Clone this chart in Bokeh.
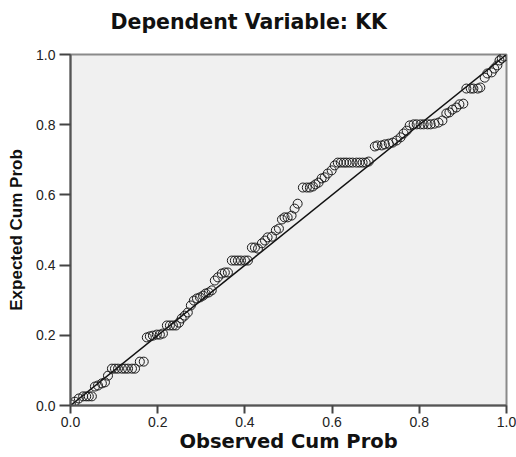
from bokeh.plotting import figure
from bokeh.models import FixedTicker, Range1d, LinearAxis
from bokeh.embed import file_html
from bokeh.resources import INLINE

# Observed cumulative probability (x) and expected cumulative probability (y)
observed = [0.001, 0.010, 0.019, 0.029, 0.036, 0.042, 0.049, 0.056, 0.063, 0.072,
            0.079, 0.086, 0.095, 0.102, 0.109, 0.118, 0.125, 0.132, 0.141, 0.148,
            0.159, 0.168, 0.175, 0.182, 0.189, 0.198, 0.205, 0.212, 0.221, 0.228,
            0.235, 0.242, 0.249, 0.255, 0.262, 0.269, 0.276, 0.283, 0.290, 0.297,
            0.304, 0.310, 0.317, 0.324, 0.331, 0.338, 0.347, 0.354, 0.361, 0.370,
            0.377, 0.384, 0.391, 0.400, 0.407, 0.416, 0.423, 0.430, 0.439, 0.446,
            0.452, 0.462, 0.471, 0.478, 0.485, 0.491, 0.498, 0.507, 0.514, 0.521,
            0.533, 0.542, 0.549, 0.556, 0.562, 0.569, 0.576, 0.583, 0.590, 0.599,
            0.606, 0.613, 0.620, 0.627, 0.633, 0.640, 0.647, 0.656, 0.663, 0.670,
            0.677, 0.684, 0.698, 0.704, 0.714, 0.721, 0.730, 0.739, 0.748, 0.757,
            0.764, 0.771, 0.778, 0.787, 0.794, 0.803, 0.810, 0.819, 0.826, 0.835,
            0.844, 0.853, 0.862, 0.869, 0.876, 0.885, 0.892, 0.901, 0.908, 0.918,
            0.924, 0.934, 0.940, 0.950, 0.956, 0.966, 0.972, 0.979, 0.984, 0.989,
            0.995]
expected = [0.003, 0.011, 0.020, 0.026, 0.026, 0.026, 0.026, 0.054, 0.057, 0.063,
            0.066, 0.085, 0.105, 0.105, 0.105, 0.105, 0.105, 0.105, 0.105, 0.105,
            0.125, 0.125, 0.194, 0.197, 0.199, 0.202, 0.202, 0.205, 0.228, 0.228,
            0.228, 0.228, 0.236, 0.248, 0.256, 0.265, 0.285, 0.299, 0.305, 0.308,
            0.313, 0.319, 0.322, 0.328, 0.356, 0.365, 0.376, 0.379, 0.379, 0.413,
            0.413, 0.413, 0.413, 0.413, 0.413, 0.450, 0.450, 0.447, 0.462, 0.470,
            0.479, 0.481, 0.499, 0.504, 0.530, 0.536, 0.536, 0.541, 0.561, 0.575,
            0.621, 0.621, 0.621, 0.624, 0.630, 0.635, 0.647, 0.650, 0.661, 0.670,
            0.684, 0.692, 0.692, 0.692, 0.692, 0.692, 0.692, 0.692, 0.692, 0.692,
            0.692, 0.695, 0.738, 0.741, 0.741, 0.744, 0.746, 0.749, 0.755, 0.764,
            0.775, 0.783, 0.798, 0.801, 0.801, 0.801, 0.801, 0.801, 0.801, 0.803,
            0.806, 0.812, 0.832, 0.835, 0.843, 0.849, 0.858, 0.860, 0.903, 0.903,
            0.903, 0.903, 0.906, 0.934, 0.946, 0.949, 0.960, 0.969, 0.983, 0.989,
            0.994]

ref_x = [0.0, 1.0]
ref_y = [0.0, 1.0]
ticks = [0.0, 0.2, 0.4, 0.6, 0.8, 1.0]
tick_labels = ["0.0", "0.2", "0.4", "0.6", "0.8", "1.0"]
title_text = "Dependent Variable: KK"
x_label = "Observed Cum Prob"
y_label = "Expected Cum Prob"

p = figure(frame_width=436, frame_height=351,
           x_range=Range1d(0, 1), y_range=Range1d(0, 1),
           output_backend="svg", toolbar_location=None,
           min_border_left=70, min_border_right=10,
           min_border_top=54, min_border_bottom=52)

xax = p.xaxis[0]
yax = p.yaxis[0]

p.background_fill_color = "#F0F0F0"
p.border_fill_color = "white"
p.outline_line_color = "#8A8A8A"
p.outline_line_width = 2
p.grid.visible = False

# invisible spacer axis on top, so the title sits higher above the frame
spacer = LinearAxis(ticker=FixedTicker(ticks=[]), axis_line_color=None,
                    major_tick_line_color=None, minor_tick_line_color=None,
                    major_tick_out=0, major_tick_in=0, minor_tick_out=0,
                    major_label_standoff=0,
                    axis_label="\u00a0", axis_label_standoff=2,
                    axis_label_text_font="DejaVu Sans",
                    axis_label_text_font_size="14px")
p.add_layout(spacer, "above")

p.title.text = title_text
p.title.text_font = "DejaVu Sans"
p.title.text_font_style = "bold"
p.title.text_font_size = "20.5px"
p.title.text_color = "#111111"
p.title.align = "left"
p.title.offset = 40
p.title.standoff = 0

p.line(ref_x, ref_y, line_color="#111111", line_width=1.5)
p.scatter(observed, expected, marker="circle", size=9, fill_color=None,
          line_color="#1A1A1A", line_width=1)

for ax in (xax, yax):
    ax.ticker = FixedTicker(ticks=ticks)
    ax.major_label_overrides = {t: l for t, l in zip(ticks, tick_labels)}
    ax.minor_tick_line_color = None
    ax.major_tick_in = 0
    ax.major_tick_line_width = 2
    ax.major_tick_line_color = "#444444"
    ax.axis_line_color = "#555555"
    ax.axis_line_width = 2
    ax.major_label_text_font = "Liberation Sans"
    ax.major_label_text_font_size = "14px"
    ax.major_label_text_color = "#222222"
    ax.axis_label_text_font_style = "bold"
    ax.axis_label_text_color = "#111111"

xax.axis_label = x_label
xax.major_tick_out = 8
xax.major_label_standoff = 3
xax.axis_label_standoff = 0
xax.axis_label_text_font = "DejaVu Sans"
xax.axis_label_text_font_size = "19.5px"

yax.axis_label = y_label
yax.major_tick_out = 11
yax.major_label_standoff = 4
yax.axis_label_standoff = 7
yax.axis_label_text_font = "Liberation Sans"
yax.axis_label_text_font_size = "17px"

open("out.html", "w").write(file_html(p, INLINE))
